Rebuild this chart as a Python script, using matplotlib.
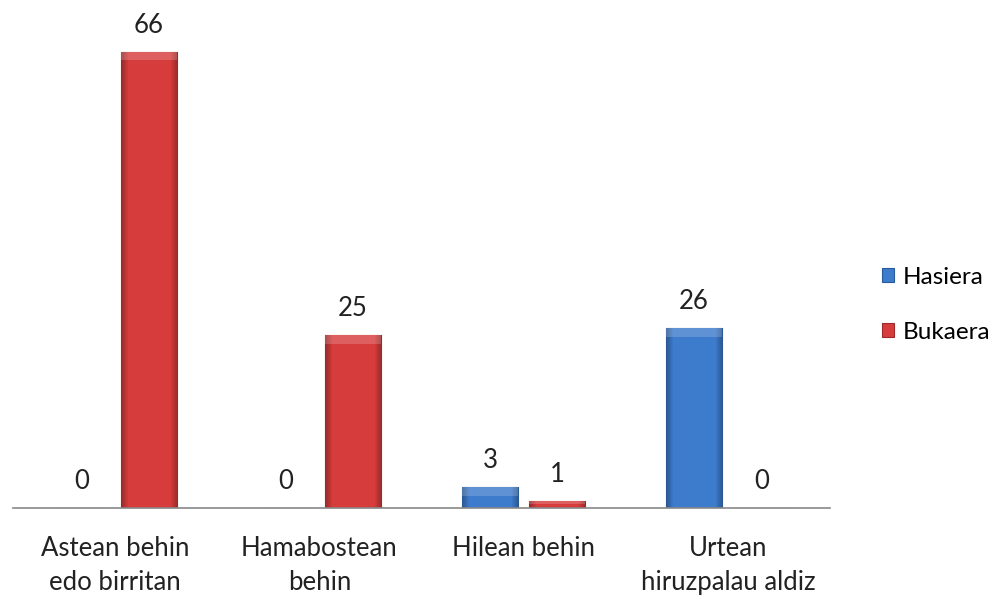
import numpy as np
import matplotlib.pyplot as plt
from matplotlib.colors import LinearSegmentedColormap

categories = ['Astean behin\nedo birritan', 'Hamabostean\nbehin', 'Hilean behin', 'Urtean\nhiruzpalau aldiz']
hasiera = [0, 0, 3, 26]
bukaera = [66, 25, 1, 0]
series_names = ['Hasiera', 'Bukaera']

blue = '#3d7bcc'
red = '#d63c3c'
plt.rcParams['font.family'] = ['Lato', 'DejaVu Sans']
fs = 18.5

fig = plt.figure(figsize=(10, 5.97), dpi=100)
ax = fig.add_axes([0.013, 0.149, 0.817, 0.81])

x = np.arange(len(categories))
w = 0.275
off = 0.165


def shade(bars, base):
    # fake bevel: darker at the sides, lighter in the middle
    cmap = LinearSegmentedColormap.from_list('b', ['#000000', base, '#ffffff'])
    for b in bars:
        h = b.get_height()
        if h <= 0:
            continue
        x0, y0 = b.get_x(), b.get_y()
        row = np.concatenate([np.linspace(0.36, 0.5, 6), np.full(30, 0.5), np.linspace(0.5, 0.36, 6)])
        grad = np.tile(row, (2, 1))
        im = ax.imshow(grad, cmap=cmap, vmin=0, vmax=1, aspect='auto', interpolation='bilinear',
                       extent=[x0, x0 + b.get_width(), y0, y0 + h], zorder=2)
        im.set_clip_path(b)
        # lighter top bevel
        top = min(1.2, h * 0.4)
        ax.fill_between([x0, x0 + b.get_width()], y0 + h - top, y0 + h, color='white', alpha=0.18,
                        linewidth=0, zorder=2.5)


b1 = ax.bar(x - off, hasiera, w, color=blue, edgecolor='#2a5a99', linewidth=0.8, label=series_names[0], zorder=2)
b2 = ax.bar(x + off, bukaera, w, color=red, edgecolor='#9e2a2a', linewidth=0.8, label=series_names[1], zorder=2)
shade(b1, blue)
shade(b2, red)

for bars, vals in [(b1, hasiera), (b2, bukaera)]:
    for b, v in zip(bars, vals):
        ax.text(b.get_x() + b.get_width() / 2, v + 2.1, str(v), ha='center', va='bottom', fontsize=fs, color='#222222')

ax.set_xlim(-0.5, 3.5)
ax.set_ylim(0, 70)
ax.set_xticks(x)
ax.set_xticklabels(categories, fontsize=fs, color='#222222', linespacing=1.45)
ax.tick_params(axis='x', length=0, pad=20)
ax.set_yticks([])
for s in ['top', 'right', 'left']:
    ax.spines[s].set_visible(False)
ax.spines['bottom'].set_color('#888888')
ax.spines['bottom'].set_linewidth(1.2)

leg = fig.legend(handles=[b1, b2], labels=series_names, loc='upper left', bbox_to_anchor=(0.86, 0.59),
                 frameon=False, fontsize=17.5, handlelength=0.5, handleheight=0.5, handletextpad=0.35,
                 labelspacing=1.4)

fig.savefig('out.png', dpi=100, facecolor='white')
